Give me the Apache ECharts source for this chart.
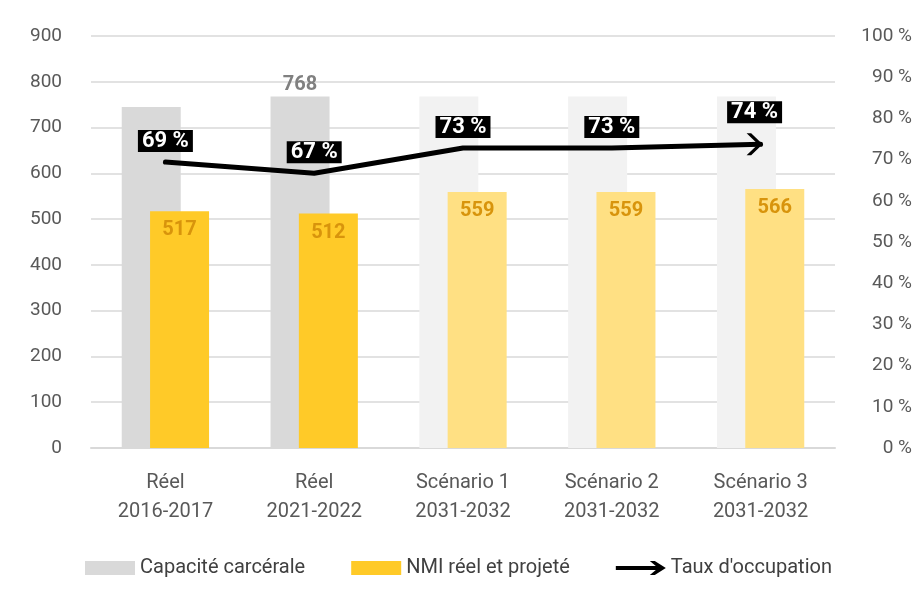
<!DOCTYPE html>
<html>
<head>
<meta charset="utf-8">
<script src="https://cdn.jsdelivr.net/npm/echarts@6/dist/echarts.min.js"></script>
<style>
  html, body { margin: 0; padding: 0; background: #fff; }
  #chart { width: 922px; height: 594px; }
</style>
</head>
<body>
<div id="chart"></div>
<script>
const categories = ['Réel\n2016-2017', 'Réel\n2021-2022', 'Scénario 1\n2031-2032', 'Scénario 2\n2031-2032', 'Scénario 3\n2031-2032']
const capacite = [745, 768, 768, 768, 768]
const nmi = [517, 512, 559, 559, 566]
const taux = [69.4, 66.7, 72.8, 72.8, 73.7]
const leftTicks = [0, 900, 100]
const rightTicks = [0, 100, 10]

const realCount = 2 // les deux premières colonnes sont réelles (couleurs foncées)
const font = 'Roboto'

// chevron pointing right, tip at the right
const chevron = 'path://M2,0 L6,0 L16,10 L6,20 L2,20 L12,10 Z'
const arrowLegend = 'path://M0,5 L40,5 L34,0 L39,0 L50,7 L39,14 L34,14 L40,9 L0,9 Z'

const chart = echarts.init(document.getElementById('chart'))

chart.setOption({
  animation: false,
  textStyle: { fontFamily: font },
  grid: { left: 91, right: 87, top: 36, bottom: 146 },
  legend: {
    left: 80,
    top: 553,
    itemWidth: 50,
    itemHeight: 14,
    itemGap: 46,
    textStyle: { fontSize: 20, color: '#404040', fontFamily: font },
    data: [
      { name: 'Capacité carcérale', icon: 'rect', itemStyle: { color: '#d9d9d9' } },
      { name: 'NMI réel et projeté', icon: 'rect', itemStyle: { color: '#ffca28' } },
      { name: "Taux d'occupation", icon: arrowLegend, itemStyle: { color: '#000' } }
    ]
  },
  xAxis: {
    type: 'category',
    data: categories,
    axisTick: { show: false },
    axisLine: { lineStyle: { color: '#d9d9d9', width: 2 } },
    axisLabel: { color: '#595959', fontSize: 20, lineHeight: 29, margin: 20 }
  },
  yAxis: [{
    type: 'value',
    min: leftTicks[0],
    max: leftTicks[1],
    interval: leftTicks[2],
    axisLine: { show: false },
    axisTick: { show: false },
    splitLine: { lineStyle: { color: '#d9d9d9', width: 1.5 } },
    axisLabel: { color: '#595959', fontSize: 19, margin: 29 }
  }, {
    type: 'value',
    min: rightTicks[0],
    max: rightTicks[1],
    interval: rightTicks[2],
    axisLine: { show: false },
    axisTick: { show: false },
    splitLine: { show: false },
    axisLabel: { color: '#595959', fontSize: 19, align: 'right', margin: 77, formatter: '{value} %' }
  }],
  series: [{
    name: 'Capacité carcérale',
    type: 'bar',
    barWidth: 59,
    barGap: '-52%',
    data: capacite.map((v, i) => ({
      value: v,
      label: { show: i === 1 }
    })),
    itemStyle: {
      color: p => p.dataIndex < realCount ? '#d9d9d9' : '#f2f2f2'
    },
    label: {
      position: 'top',
      distance: 1,
      color: '#808080',
      fontSize: 20,
      fontWeight: 'bold'
    }
  }, {
    name: 'NMI réel et projeté',
    type: 'bar',
    barWidth: 59,
    data: nmi,
    itemStyle: {
      color: p => p.dataIndex < realCount ? '#ffca28' : '#ffe083'
    },
    label: {
      show: true,
      position: 'insideTop',
      distance: 9,
      color: '#d8940c',
      fontSize: 20,
      fontWeight: 'bold'
    }
  }, {
    name: "Taux d'occupation",
    type: 'line',
    yAxisIndex: 1,
    z: 5,
    data: taux.map((v, i) => i === taux.length - 1
      ? { value: v, symbol: chevron, symbolSize: [16, 22], symbolOffset: [-6, 0] }
      : { value: v }),
    symbol: 'circle',
    symbolSize: 0.1,
    showSymbol: true,
    lineStyle: { color: '#000', width: 5, cap: 'round', join: 'round' },
    itemStyle: { color: '#000' },
    label: {
      show: true,
      position: 'top',
      distance: 10,
      color: '#fff',
      fontSize: 22,
      fontWeight: 'bold',
      backgroundColor: '#000',
      padding: [0, 4, 0, 4],
      formatter: p => Math.round(p.value) + ' %'
    }
  }]
})
</script>
</body>
</html>
